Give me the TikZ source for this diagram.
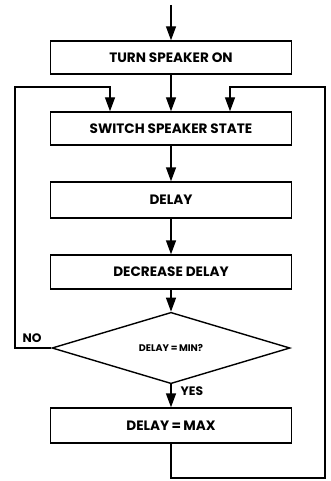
\documentclass[tikz,border=0pt]{standalone}
\usepackage{fontspec}
\setmainfont{Poppins}
\usetikzlibrary{shapes.geometric,arrows.meta}
\begin{document}
\begin{tikzpicture}[
  line width=1.4pt,
  procbox/.style={draw, rectangle, minimum width=241pt, inner sep=0pt, font=\fontsize{13.6}{15}\selectfont\bfseries},
  decision/.style={draw, diamond, minimum width=238pt, minimum height=50pt, inner sep=0pt, font=\fontsize{9.6}{11}\selectfont\bfseries},
  lbl/.style={inner sep=0pt, font=\fontsize{12.3}{14}\selectfont\bfseries},
  arr/.style={-{Triangle[length=14pt,width=10pt]}}]
\useasboundingbox (0pt,0pt) rectangle (330pt,-481pt);
\node[procbox, minimum height=33pt] (b1) at (171pt,-57.5pt) {TURN SPEAKER ON};
\node[procbox, minimum height=33pt] (b2) at (171pt,-128.5pt) {SWITCH SPEAKER STATE};
\node[procbox, minimum height=36pt] (b3) at (171pt,-200pt) {DELAY};
\node[procbox, minimum height=34pt] (b4) at (171pt,-272pt) {DECREASE DELAY};
\node[decision] (d) at (171pt,-348pt) {DELAY\,=\,MIN?};
\node[procbox, minimum height=35pt] (b5) at (171pt,-425.5pt) {DELAY\,=\,MAX};
\coordinate (start) at (171pt,-5pt);
\coordinate (ltop) at (15pt,-87pt);
\coordinate (lin) at (110pt,-87pt);
\coordinate (rtop) at (325pt,-87pt);
\coordinate (rin) at (230pt,-87pt);
\coordinate (rbot) at (325pt,-478pt);
\coordinate (mbot) at (171pt,-478pt);
\draw[arr] (start) -- (b1.north);
\draw[arr] (b1.south) -- (b2.north);
\draw[arr] (b2.south) -- (b3.north);
\draw[arr] (b3.south) -- (b4.north);
\draw[arr] (b4.south) -- (d.north);
\draw[arr] (d.south) -- (b5.north);
\draw[arr] (d.west) -| (ltop) -- (lin) -- (lin |- b2.north);
\draw[arr] (b5.south) -- (mbot) -- (rbot) -- (rtop) -- (rin) -- (rin |- b2.north);
\node[lbl, anchor=south west] (no) at (22pt,-343pt) {NO};
\node[lbl, anchor=west] (yes) at (180pt,-391pt) {YES};
\end{tikzpicture}
\end{document}
